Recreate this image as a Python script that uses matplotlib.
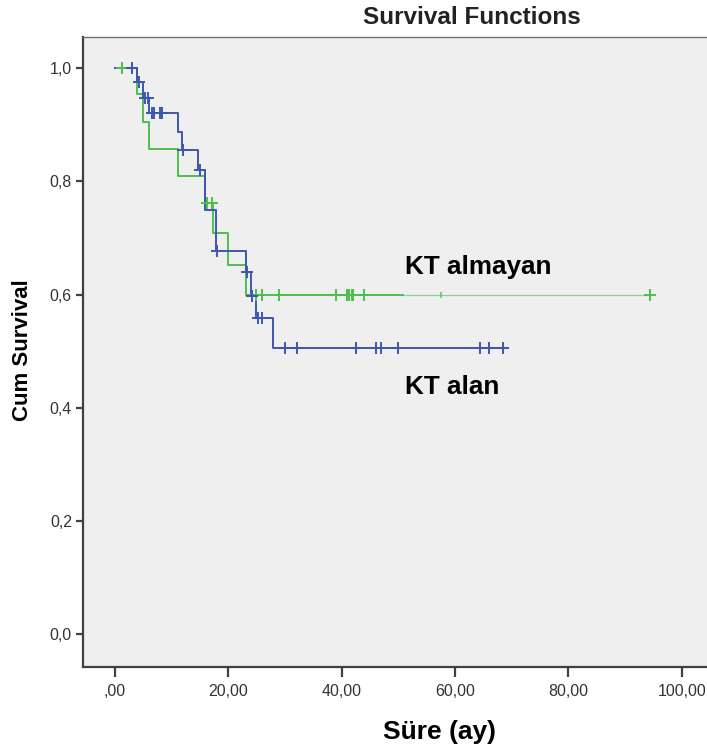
import numpy as np
import matplotlib as mpl
import matplotlib.pyplot as plt
from matplotlib.ticker import FuncFormatter

mpl.use('Agg')

# KT almayan (green)
yok_olay_t = [4.0, 4.9, 6.0, 11.1, 16.0, 17.4, 20.0, 23.1]
yok_olay_s = [0.955, 0.905, 0.858, 0.809, 0.762, 0.708, 0.653, 0.600]
yok_sansur = [1.2, 16.2, 17.1, 25.0, 26.0, 29.0, 39.0, 41.0, 41.3, 41.8, 42.1, 44.0, 94.4]
yok_kucuk = [57.5]
yok_ince_baslangic = 50.8

# KT alan (blue)
var_olay_t = [4.0, 5.0, 6.1, 11.1, 11.9, 14.7, 16.0, 17.8, 23.1, 24.0, 25.0, 27.9]
var_olay_s = [0.975, 0.948, 0.920, 0.888, 0.855, 0.820, 0.749, 0.677, 0.640, 0.598, 0.558, 0.506]
var_sansur = [3.1, 4.3, 5.4, 5.8, 6.6, 6.9, 7.9, 8.3, 12.1, 15.0, 17.95, 23.3, 24.2,
              25.2, 26.0, 30.0, 32.1, 42.5, 46.1, 46.9, 50.0, 64.4, 66.0, 68.4]

x_ticks = [0, 20, 40, 60, 80, 100]
y_ticks = [0.0, 0.2, 0.4, 0.6, 0.8, 1.0]

yesil = '#4cbf4c'
mavi = '#3e56b0'
FONT = 'Liberation Sans'


def surv_at(t, olay_t, olay_s):
    i = np.searchsorted(olay_t, t, side='right')
    s = np.r_[1.0, olay_s]
    return s[i]


def ciz(ax, olay_t, olay_s, sansur, renk, ince=None):
    son = max(sansur)
    if ince is not None:
        ax.step(np.r_[0, olay_t, ince], np.r_[1.0, olay_s, olay_s[-1]], where='post',
                color=renk, lw=1.4, zorder=3)
        ax.plot([ince, son], [olay_s[-1]] * 2, color=renk, lw=0.9, alpha=0.6, zorder=3)
    else:
        ax.step(np.r_[0, olay_t, son], np.r_[1.0, olay_s, olay_s[-1]], where='post',
                color=renk, lw=1.4, zorder=3)
    cs = [surv_at(t, olay_t, olay_s) for t in sansur]
    ax.plot(sansur, cs, ls='none', marker='+', ms=9, mew=1.4, color=renk, zorder=4)


fig = plt.figure(figsize=(7.07, 7.49), dpi=100)
ax = fig.add_axes([83 / 707, (749 - 667) / 749, (710 - 83) / 707, 630 / 749])
ax.set_facecolor('#efefef')

ciz(ax, yok_olay_t, yok_olay_s, yok_sansur, yesil, ince=yok_ince_baslangic)
ax.plot(yok_kucuk, [surv_at(t, yok_olay_t, yok_olay_s) for t in yok_kucuk],
        ls='none', marker='|', ms=5, mew=1.2, color=yesil, alpha=0.8, zorder=4)
ciz(ax, var_olay_t, var_olay_s, var_sansur, mavi)

ax.set_xlim(-5.6, 105)
ax.set_ylim(-0.058, 1.055)
ax.set_xticks(x_ticks)
ax.set_yticks(y_ticks)
ax.xaxis.set_major_formatter(FuncFormatter(lambda v, p: ',00' if v == 0 else ('%.2f' % v).replace('.', ',')))
ax.yaxis.set_major_formatter(FuncFormatter(lambda v, p: ('%.1f' % v).replace('.', ',')))

for s in ['left', 'bottom']:
    ax.spines[s].set_color('#404040')
    ax.spines[s].set_linewidth(1.6)
for s in ['top', 'right']:
    ax.spines[s].set_color('#707070')
    ax.spines[s].set_linewidth(1.0)
ax.tick_params(axis='x', direction='out', length=7, width=1.6, color='#404040', pad=5,
               labelsize=11.5, labelcolor='#333333')
ax.tick_params(axis='y', direction='out', length=5, width=1.6, color='#404040', pad=3,
               labelsize=11.5, labelcolor='#333333')
for lab in ax.get_xticklabels() + ax.get_yticklabels():
    lab.set_family(FONT)

ax.text(51.2, 0.649, 'KT almayan', fontsize=18.8, fontweight='bold', family=FONT,
        ha='left', va='center')
ax.text(51.2, 0.437, 'KT alan', fontsize=18.8, fontweight='bold', family=FONT,
        ha='left', va='center')

fig.text(471.7 / 707, 1 - 17 / 749, 'Survival Functions', fontsize=17.5, fontweight='bold',
         family=FONT, ha='center', va='center', color='#222222')
fig.text(23 / 707, 1 - 350 / 749, 'Cum Survival', fontsize=16, fontweight='bold',
         family=FONT, ha='center', va='center', rotation=90)
fig.text(440 / 707, 1 - 732 / 749, 'Süre (ay)', fontsize=19, fontweight='bold',
         family=FONT, ha='center', va='center')

plt.savefig('out.png', dpi=100, facecolor='white')
